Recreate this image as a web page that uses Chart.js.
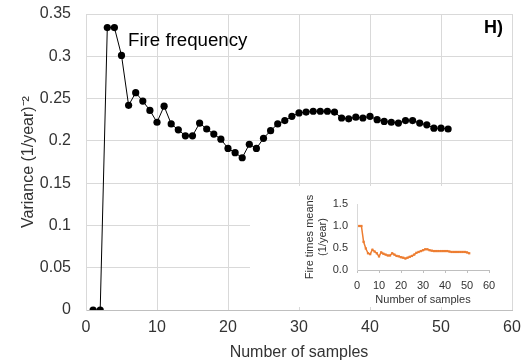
<!DOCTYPE html>
<html>
<head>
<meta charset="utf-8">
<script src="https://cdn.jsdelivr.net/npm/chart.js@4/dist/chart.umd.min.js"></script>
<style>
  html, body { margin: 0; padding: 0; background: #fff; }
  #wrap { position: relative; width: 524px; height: 364px; }
  #main { position: absolute; left: 0; top: 0; }
  #inset { position: absolute; left: 250px; top: 186px; background: #fff; }
</style>
</head>
<body>
<div id="wrap">
  <canvas id="main" width="524" height="364"></canvas>
  <canvas id="inset" width="262" height="121"></canvas>
</div>
<script>
const FONT = '"Liberation Sans", Arial, sans-serif'

// number of samples used for each estimate
const samples = [1, 2, 3, 4, 5, 6, 7, 8, 9, 10, 11, 12, 13, 14, 15, 16, 17, 18, 19, 20,
  21, 22, 23, 24, 25, 26, 27, 28, 29, 30, 31, 32, 33, 34, 35, 36, 37, 38, 39, 40,
  41, 42, 43, 44, 45, 46, 47, 48, 49, 50, 51]

// variance of the fire frequency, (1/year)^-2
const variance = [0, 0, 0.334, 0.334, 0.301, 0.242, 0.257, 0.247, 0.236, 0.222,
  0.241, 0.220, 0.213, 0.206, 0.206, 0.221, 0.214, 0.208, 0.202, 0.191,
  0.186, 0.180, 0.196, 0.191, 0.203, 0.212, 0.220, 0.224, 0.229, 0.233,
  0.234, 0.235, 0.235, 0.235, 0.234, 0.227, 0.226, 0.228, 0.227, 0.229,
  0.225, 0.223, 0.222, 0.221, 0.224, 0.224, 0.221, 0.219, 0.215, 0.215, 0.214]

// mean of the fire times, 1/year
const fireMeans = [1.0, 1.0, 0.64, 0.49, 0.38, 0.36, 0.46, 0.42, 0.38, 0.31,
  0.40, 0.37, 0.35, 0.33, 0.33, 0.38, 0.35, 0.32, 0.31, 0.29,
  0.28, 0.26, 0.28, 0.30, 0.32, 0.35, 0.39, 0.41, 0.43, 0.45,
  0.47, 0.47, 0.45, 0.44, 0.43, 0.43, 0.43, 0.43, 0.43, 0.43,
  0.43, 0.42, 0.41, 0.41, 0.41, 0.41, 0.41, 0.41, 0.41, 0.40, 0.38]

const xTicks = [0, 10, 20, 30, 40, 50, 60]
const yTicks = [0, 0.05, 0.1, 0.15, 0.2, 0.25, 0.3, 0.35]
const insetYTicks = [0, 0.5, 1.0, 1.5]

function toPoints(ys) {
  return samples.map(function(x, i) { return {x: x, y: ys[i]} })
}

function fixedTicks(values) {
  return function(scale) {
    scale.ticks = values.map(function(v) { return {value: v} })
  }
}

// pin the axis box size and let layout.padding alone place the plot area
function fitTo(size) {
  return function(s) {
    if (s.isHorizontal()) s.height = size
    else s.width = size
    s.paddingTop = 0
    s.paddingBottom = 0
    s.paddingLeft = 0
    s.paddingRight = 0
  }
}

// panel letter and series name written on the plot
const labelsPlugin = {
  id: 'panelLabels',
  afterDraw: function(chart) {
    const ctx = chart.ctx
    ctx.save()
    ctx.fillStyle = '#000'
    ctx.textBaseline = 'alphabetic'
    ctx.font = '18.7px ' + FONT
    ctx.textAlign = 'left'
    ctx.fillText('Fire frequency', 128, 46)
    ctx.font = 'bold 18px ' + FONT
    ctx.textAlign = 'right'
    ctx.fillText('H)', 503, 33)
    ctx.restore()
  }
}

Chart.defaults.font.family = FONT
Chart.defaults.color = '#333'

new Chart(document.getElementById('main'), {
  type: 'line',
  data: {
    datasets: [{
      label: 'Fire frequency',
      data: toPoints(variance),
      borderColor: '#000',
      borderWidth: 1,
      backgroundColor: '#000',
      pointRadius: 3.6,
      pointBorderWidth: 0,
      tension: 0
    }]
  },
  options: {
    responsive: false,
    animation: false,
    devicePixelRatio: 1,
    layout: {padding: {left: 0, right: 12, top: 14, bottom: 0}},
    plugins: {legend: {display: false}, tooltip: {enabled: false}},
    scales: {
      x: {
        type: 'linear',
        min: 0,
        max: 60,
        afterBuildTicks: fixedTicks(xTicks),
        afterFit: fitTo(54),
        grid: {color: '#d9d9d9', drawTicks: false},
        border: {color: '#bfbfbf'},
        ticks: {padding: 8, font: {size: 16}},
        title: {display: true, text: 'Number of samples', font: {size: 16}, color: '#333', padding: {top: 0, bottom: 2}}
      },
      y: {
        min: 0,
        max: 0.35,
        afterBuildTicks: fixedTicks(yTicks),
        afterFit: fitTo(86),
        grid: {color: '#d9d9d9', drawTicks: false},
        border: {color: '#d9d9d9'},
        ticks: {
          padding: 15,
          font: {size: 16},
          callback: function(v) { return String(+v.toFixed(2)) }
        },
        title: {display: true, text: 'Variance (1/year)⁻²', font: {size: 16}, color: '#333', padding: {top: 19, bottom: 0}}
      }
    }
  },
  plugins: [labelsPlugin]
})

new Chart(document.getElementById('inset'), {
  type: 'line',
  data: {
    datasets: [{
      label: 'Fire times means',
      data: toPoints(fireMeans),
      borderColor: '#ed7d31',
      borderWidth: 1.5,
      backgroundColor: '#ed7d31',
      pointStyle: 'rect',
      pointRadius: 1.6,
      pointBorderWidth: 0,
      tension: 0
    }]
  },
  options: {
    responsive: false,
    animation: false,
    devicePixelRatio: 1,
    layout: {padding: {left: 0, right: 23, top: 18, bottom: 0}},
    plugins: {legend: {display: false}, tooltip: {enabled: false}},
    scales: {
      x: {
        type: 'linear',
        min: 0,
        max: 60,
        afterBuildTicks: fixedTicks(xTicks),
        afterFit: fitTo(37),
        grid: {drawOnChartArea: false, drawTicks: true, tickLength: 3, color: '#bfbfbf'},
        border: {color: '#bfbfbf'},
        ticks: {padding: 6, font: {size: 11}},
        title: {display: true, text: 'Number of samples', font: {size: 11}, color: '#333', padding: {top: 0, bottom: 0.4}}
      },
      y: {
        min: 0,
        max: 1.5,
        afterBuildTicks: fixedTicks(insetYTicks),
        afterFit: fitTo(107),
        grid: {drawOnChartArea: false, drawTicks: false},
        border: {color: '#d9d9d9'},
        ticks: {
          padding: 9,
          font: {size: 11},
          callback: function(v) { return v.toFixed(1) }
        },
        title: {display: true, text: ['Fire times means', '(1/year)'], font: {size: 11}, color: '#333', padding: {top: 53, bottom: 0}}
      }
    }
  }
})
</script>
</body>
</html>
